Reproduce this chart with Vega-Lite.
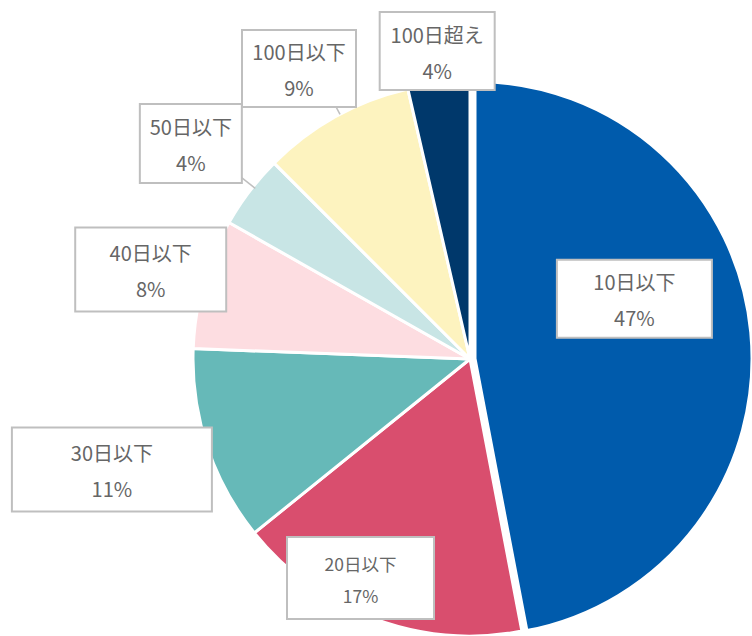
{
  "$schema": "https://vega.github.io/schema/vega-lite/v6.json",
  "width": 554,
  "height": 554,
  "autosize": {"type": "none"},
  "padding": {"left": 193, "top": 82, "right": 5, "bottom": 0},
  "background": "white",
  "config": {"view": {"stroke": null}, "font": "Noto Sans CJK JP"},
  "data": {
    "values": [
      {"cat": "10日以下", "pct": 47.0},
      {"cat": "20日以下", "pct": 17.2},
      {"cat": "30日以下", "pct": 11.4},
      {"cat": "40日以下", "pct": 7.6},
      {"cat": "50日以下", "pct": 4.3},
      {"cat": "100日以下", "pct": 8.9},
      {"cat": "100日超え", "pct": 3.6}
    ]
  },
  "transform": [
    {"window": [{"op": "sum", "field": "pct", "as": "cum"}, {"op": "row_number", "as": "idx"}], "frame": [null, 0]},
    {"joinaggregate": [{"op": "sum", "field": "pct", "as": "tot"}]},
    {"calculate": "(datum.cum - datum.pct / 2) / datum.tot * 2 * PI", "as": "mid"},
    {"calculate": "datum.cat === '10日以下' ? 0.632 : datum.cat === '20日以下' ? 0.884 : datum.cat === '30日以下' ? 1.353 : datum.cat === '40日以下' ? 1.197 : datum.cat === '50日以下' ? 1.273 : datum.cat === '100日以下' ? 1.217 : 1.118", "as": "lr"},
    {"calculate": "datum.cat === '10日以下' ? -14.7 : datum.cat === '20日以下' ? 6.4 : datum.cat === '30日以下' ? 1.2 : datum.cat === '40日以下' ? -0.2 : datum.cat === '50日以下' ? 0.4 : datum.cat === '100日以下' ? -1.5 : 0.4", "as": "ls"},
    {"calculate": "datum.mid + datum.ls * PI / 180", "as": "la"},
    {"calculate": "datum.lr * sin(datum.la)", "as": "lx"},
    {"calculate": "datum.lr * cos(datum.la)", "as": "ly"},
    {"calculate": "datum.cat + '\\n' + round(datum.pct) + '%'", "as": "lab"}
  ],
  "layer": [
    {
      "mark": {"type": "arc", "stroke": "white", "strokeWidth": 3},
      "encoding": {
        "theta": {"field": "pct", "type": "quantitative", "stack": true},
        "order": {"field": "idx", "type": "quantitative"},
        "color": {
          "field": "cat", "type": "nominal", "legend": null,
          "scale": {
            "domain": ["10日以下", "20日以下", "30日以下", "40日以下", "50日以下", "100日以下", "100日超え"],
            "range": ["#005BAC", "#D94E6E", "#66B9B8", "#FDDDE1", "#C8E5E5", "#FDF3BF", "#00386B"]
          }
        },
        "opacity": {"condition": {"test": "datum.cat === '10日以下'", "value": 0}, "value": 1}
      }
    },
    {
      "mark": {"type": "arc", "stroke": "white", "strokeWidth": 3, "xOffset": 5, "yOffset": -0.5},
      "encoding": {
        "theta": {"field": "pct", "type": "quantitative", "stack": true},
        "order": {"field": "idx", "type": "quantitative"},
        "color": {"field": "cat", "type": "nominal", "legend": null},
        "opacity": {"condition": {"test": "datum.cat === '10日以下'", "value": 1}, "value": 0}
      }
    },
    {
      "transform": [
        {"filter": "datum.cat === '50日以下' || datum.cat === '100日以下'"},
        {"calculate": "datum.mid + (datum.cat === '50日以下' ? 1.2 : 1.0) * PI / 180", "as": "ra"},
        {"calculate": "datum.cat === '50日以下' ? 0.99 : 1.0", "as": "r1"},
        {"calculate": "datum.cat === '50日以下' ? 1.066 : 1.03", "as": "r2"},
        {"calculate": "datum.r1 * sin(datum.ra)", "as": "x1"},
        {"calculate": "datum.r1 * cos(datum.ra)", "as": "y1"},
        {"calculate": "datum.r2 * sin(datum.ra)", "as": "x2"},
        {"calculate": "datum.r2 * cos(datum.ra)", "as": "y2"}
      ],
      "mark": {"type": "rule", "color": "#BFBFBF", "strokeWidth": 1.5},
      "encoding": {
        "x": {"field": "x1", "type": "quantitative", "scale": {"domain": [-1, 1], "nice": false, "zero": false}, "axis": null},
        "y": {"field": "y1", "type": "quantitative", "scale": {"domain": [-1, 1], "nice": false, "zero": false}, "axis": null},
        "x2": {"field": "x2"},
        "y2": {"field": "y2"}
      }
    },
    {
      "mark": {"type": "point", "filled": true, "fill": "white", "stroke": "#BFBFBF", "strokeWidth": 2, "opacity": 1, "size": 40000},
      "encoding": {
        "x": {"field": "lx", "type": "quantitative", "scale": {"domain": [-1, 1], "nice": false, "zero": false}, "axis": null},
        "y": {"field": "ly", "type": "quantitative", "scale": {"domain": [-1, 1], "nice": false, "zero": false}, "axis": null},
        "shape": {
          "field": "cat", "type": "nominal", "legend": null,
          "scale": {
            "domain": ["10日以下", "20日以下", "30日以下", "40日以下", "50日以下", "100日以下", "100日超え"],
            "range": [
              "M-0.775,-0.39H0.775V0.39H-0.775Z",
              "M-0.735,-0.41H0.735V0.41H-0.735Z",
              "M-1,-0.42H1V0.42H-1Z",
              "M-0.755,-0.42H0.755V0.42H-0.755Z",
              "M-0.51,-0.395H0.51V0.395H-0.51Z",
              "M-0.57,-0.385H0.57V0.385H-0.57Z",
              "M-0.575,-0.39H0.575V0.39H-0.575Z"
            ]
          }
        }
      }
    },
    {
      "transform": [{"filter": "datum.cat !== '20日以下'"}],
      "mark": {"type": "text", "fontSize": 20, "lineHeight": 36, "lineBreak": "\n", "align": "center", "baseline": "middle", "dy": -14.5, "color": "#666666"},
      "encoding": {
        "x": {"field": "lx", "type": "quantitative"},
        "y": {"field": "ly", "type": "quantitative"},
        "text": {"field": "lab"}
      }
    },
    {
      "transform": [{"filter": "datum.cat === '20日以下'"}],
      "mark": {"type": "text", "fontSize": 17.5, "lineHeight": 32, "lineBreak": "\n", "align": "center", "baseline": "middle", "dy": -12, "color": "#666666"},
      "encoding": {
        "x": {"field": "lx", "type": "quantitative"},
        "y": {"field": "ly", "type": "quantitative"},
        "text": {"field": "lab"}
      }
    }
  ]
}
